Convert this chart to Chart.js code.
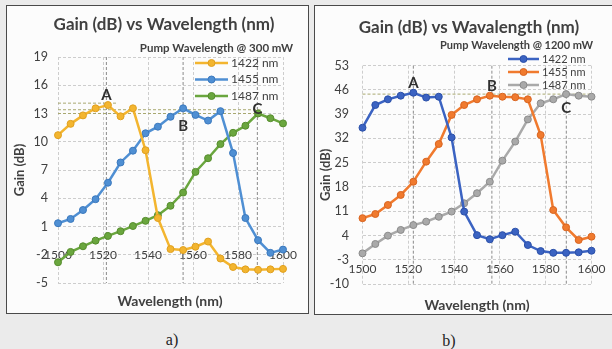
<!DOCTYPE html>
<html>
<head>
<meta charset="utf-8">
<script src="https://cdn.jsdelivr.net/npm/chart.js"></script>
<style>
  body { margin: 0; background: #ebebeb; width: 612px; height: 349px; overflow: hidden; position: relative; }
  .box { position: absolute; background: #fcfcfc; border: 1.5px solid #4a4a4a; box-sizing: border-box; }
  #boxA { left: 6px; top: 5px; width: 303px; height: 309px; }
  #boxB { left: 314px; top: 5px; width: 300px; height: 310px; }
  canvas { position: absolute; top: 0; }
  #chartA { left: 0; }
  #chartB { left: 310px; }
  .cap { position: absolute; font: 16px "Liberation Serif", serif; color: #222; transform: translate(-50%, -50%); }
</style>
</head>
<body>
<div class="box" id="boxA"></div>
<div class="box" id="boxB"></div>
<canvas id="chartA" width="310" height="318"></canvas>
<canvas id="chartB" width="302" height="318"></canvas>
<div class="cap" style="left:172px;top:340px">a)</div>
<div class="cap" style="left:449px;top:341px">b)</div>
<script>
// wavelength samples (nm)
const wavelengths = [1500, 1505.6, 1511.1, 1516.7, 1522.2, 1527.8, 1533.3, 1538.9, 1544.4, 1550,
  1555.6, 1561.1, 1566.7, 1572.2, 1577.8, 1583.3, 1588.9, 1594.4, 1600];
const pumpLabels = ['1422 nm', '1455 nm', '1487 nm'];

// a) 300 mW
const gainA1422 = [10.7, 11.9, 12.8, 13.55, 13.9, 12.7, 13.55, 9.1, 1.9, -1.4, -1.5, -1.15, -0.6, -2.4, -3.3, -3.55, -3.6, -3.55, -3.5];
const gainA1455 = [1.35, 1.8, 2.75, 3.9, 5.65, 7.8, 9.05, 10.9, 11.6, 12.65, 13.55, 12.85, 12.25, 13.25, 8.8, 1.9, -0.45, -1.8, -1.45];
const gainA1487 = [-2.8, -1.7, -1.1, -0.5, 0.0, 0.5, 1.05, 1.6, 2.2, 3.2, 4.6, 6.8, 8.25, 9.75, 10.95, 11.7, 13.0, 12.5, 11.95];

// b) 1200 mW
const gainB1422 = [35.1, 41.65, 43.3, 44.35, 45.2, 43.8, 44.05, 32.3, 10.9, 4.1, 2.9, 4.1, 5.1, 1.25, -0.5, -1.0, -1.0, -0.85, -0.4];
const gainB1455 = [9.0, 10.2, 12.8, 15.7, 19.5, 25.3, 30.4, 38.8, 41.65, 43.3, 44.35, 44.05, 43.9, 43.3, 33, 11.35, 6.35, 2.7, 3.65];
const gainB1487 = [-1.15, 1.55, 3.95, 5.6, 7.0, 8.0, 9.4, 10.9, 13.3, 16.2, 19.5, 25.6, 31.1, 37.5, 42.15, 43.3, 44.8, 44.35, 44.05];

// peak markers A, B, C (wavelength of the peak, and where the letter sits)
const peakNames = ['A', 'B', 'C'];
const peakWaveA = [1521.5, 1555.6, 1588.6];
const letterGainA = [14.9, 11.7, 13.5];
const peakWaveB = [1522.2, 1556.5, 1589];
const letterGainB = [48.1, 47.1, 40.7];

const textCol = '#404040';

const toPoints = (ys) => ys.map((v, i) => ({ x: wavelengths[i], y: v }));

const series = (label, ys, color, edge) => ({
  label: label,
  data: toPoints(ys),
  borderColor: color,
  backgroundColor: color,
  pointBackgroundColor: color,
  pointBorderColor: edge,
  pointBorderWidth: 1,
  pointRadius: 3.5,
  borderWidth: 2.5,
  tension: 0,
  clip: false
});

// titles, in-plot legend, peak letters and dashed guide lines
const decor = {
  id: 'decor',
  beforeDatasetsDraw(chart, args, o) {
    const { ctx, chartArea: ca, scales: { x, y } } = chart;
    ctx.save();
    ctx.lineWidth = 1;
    ctx.setLineDash([3, 2]);
    ctx.strokeStyle = o.vColor;
    o.peaks.forEach(w => {
      const px = x.getPixelForValue(w);
      ctx.beginPath(); ctx.moveTo(px, ca.top); ctx.lineTo(px, ca.bottom); ctx.stroke();
    });
    ctx.strokeStyle = o.hColor;
    o.levels.forEach(l => {
      const py = y.getPixelForValue(l[0]);
      ctx.beginPath(); ctx.moveTo(ca.left, py); ctx.lineTo(x.getPixelForValue(l[1]), py); ctx.stroke();
    });
    ctx.restore();
  },
  afterDraw(chart, args, o) {
    const { ctx, scales: { x, y } } = chart;
    ctx.save();
    ctx.fillStyle = textCol;
    ctx.textBaseline = 'middle';
    ctx.textAlign = 'center';
    ctx.font = 'bold ' + o.titleSize + 'px Lato';
    ctx.fillText(o.title, o.titleX, o.titleY);
    ctx.font = 'bold 14px Lato';
    ctx.fillText('Wavelength (nm)', o.xTitleX, o.xTitleY);
    ctx.textAlign = 'right';
    ctx.font = 'bold ' + o.subSize + 'px Lato';
    ctx.fillText(o.subtitle, o.subX, o.subY);

    // letters
    ctx.textAlign = 'center';
    ctx.font = 'bold 15px Lato';
    ctx.fillStyle = '#303030';
    o.peaks.forEach((w, i) => {
      ctx.fillText(peakNames[i], x.getPixelForValue(w), y.getPixelForValue(o.letters[i]));
    });

    // legend
    chart.data.datasets.forEach((ds, i) => {
      const ly = o.legY + i * o.legGap;
      ctx.strokeStyle = ds.borderColor;
      ctx.lineWidth = 2.5;
      ctx.beginPath(); ctx.moveTo(o.legX, ly); ctx.lineTo(o.legX + o.legLen, ly); ctx.stroke();
      ctx.fillStyle = ds.pointBackgroundColor;
      ctx.strokeStyle = ds.pointBorderColor;
      ctx.lineWidth = 1;
      ctx.beginPath(); ctx.arc(o.legX + o.legLen / 2, ly, 3.5, 0, Math.PI * 2); ctx.fill(); ctx.stroke();
      ctx.fillStyle = textCol;
      ctx.textAlign = 'left';
      ctx.font = o.legSize + 'px Lato';
      ctx.fillText(ds.label, o.legX + o.legLen + 3, ly);
    });
    ctx.restore();
  }
};

function axes(ymin, ymax, step, crossAt, yPad, xPad, yWidth) {
  return {
    x: {
      type: 'linear', min: 1500, max: 1600,
      position: { y: crossAt },
      ticks: { stepSize: 20, padding: xPad, color: textCol, font: { family: 'Lato', size: 12 },
        callback: (v) => String(v) },
      grid: { color: '#cdcdcd', drawTicks: false },
      border: { display: false, dash: [3, 2] }
    },
    y: {
      min: ymin, max: ymax,
      afterFit: (s) => { s.width = yWidth; },
      ticks: { stepSize: step, padding: yPad, color: textCol, font: { family: 'Lato', size: 12.5 } },
      grid: { color: '#cdcdcd', drawTicks: false },
      border: { display: false, dash: [3, 2] },
      title: { display: true, text: 'Gain (dB)', color: textCol, font: { family: 'Lato', size: 13, weight: 'bold' } }
    }
  };
}

new Chart(document.getElementById('chartA'), {
  type: 'line',
  data: {
    datasets: [
      series(pumpLabels[0], gainA1422, '#f3b52f', '#e0a020'),
      series(pumpLabels[1], gainA1455, '#4f8fd3', '#3a78bd'),
      series(pumpLabels[2], gainA1487, '#6aa63e', '#558c2c')
    ]
  },
  options: {
    responsive: false,
    animation: false,
    layout: { padding: { left: 8, top: 57, right: 27, bottom: 35 } },
    scales: axes(-5, 19, 3, -2, 10, -7, 50),
    plugins: {
      legend: { display: false },
      tooltip: { enabled: false },
      decor: {
        title: 'Gain (dB) vs Wavelength (nm)', titleSize: 17, titleX: 164, titleY: 25,
        subtitle: 'Pump Wavelength @ 300 mW', subSize: 11.5, subX: 293, subY: 48,
        xTitleX: 170, xTitleY: 301,
        legX: 195, legY: 63, legGap: 16.5, legLen: 33, legSize: 12,
        peaks: peakWaveA, letters: letterGainA,
        vColor: '#8a8a8a', hColor: '#a8a870',
        levels: [[14.1, 1526], [13.4, 1590], [13.0, 1590]]
      }
    }
  },
  plugins: [decor]
});

new Chart(document.getElementById('chartB'), {
  type: 'line',
  data: {
    datasets: [
      series(pumpLabels[0], gainB1422, '#3b63c2', '#2a4fa8'),
      series(pumpLabels[1], gainB1455, '#f07a2e', '#d86420'),
      series(pumpLabels[2], gainB1487, '#a9a9a9', '#8a8a8a')
    ]
  },
  options: {
    responsive: false,
    animation: false,
    layout: { padding: { left: 4, top: 65.7, right: 20.5, bottom: 34 } },
    scales: axes(-10, 53, 7, -3, 13.5, 2.5, 48.5),
    plugins: {
      legend: { display: false },
      tooltip: { enabled: false },
      decor: {
        title: 'Gain (dB) vs Wavalength (nm)', titleSize: 17, titleX: 159, titleY: 28,
        subtitle: 'Pump Wavelength @ 1200 mW', subSize: 11, subX: 283, subY: 45,
        xTitleX: 167, xTitleY: 305,
        legX: 198, legY: 59, legGap: 13, legLen: 31, legSize: 11,
        peaks: peakWaveB, letters: letterGainB,
        vColor: '#8a8a8a', hColor: '#a8a870',
        levels: [[44.8, 1600]]
      }
    }
  },
  plugins: [decor]
});
</script>
</body>
</html>
